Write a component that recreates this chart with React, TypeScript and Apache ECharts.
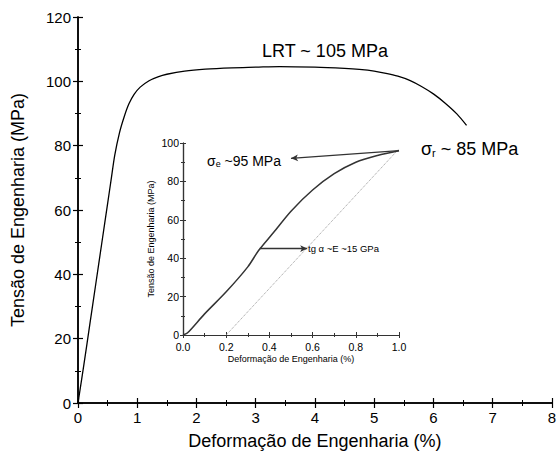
import React, { useEffect, useRef } from "react";
import * as echarts from "echarts";

// Main stress-strain curve: [strain %, stress MPa]
const mainStrain = [0, 0.1, 0.2, 0.3, 0.4, 0.5, 0.56, 0.62, 0.7, 0.78, 0.86, 0.95, 1.05, 1.2, 1.35, 1.5, 1.8, 2.15, 2.6, 3.0, 3.4, 4.0, 4.5, 4.75, 5.0, 5.2, 5.4, 5.6, 5.8, 6.0, 6.2, 6.4, 6.56];
const mainStress = [0, 12, 24.5, 37, 49.5, 62, 69.5, 77, 84, 89, 93, 96, 98.2, 100.2, 101.4, 102.2, 103.2, 103.8, 104.2, 104.4, 104.6, 104.4, 104, 103.7, 103.2, 102.5, 101.6, 100.3, 98.4, 96.1, 93.2, 89.8, 86.3];

// Inset curve
const insetStrain = [0, 0.02, 0.1, 0.2, 0.3, 0.35, 0.42, 0.5, 0.6, 0.7, 0.8, 0.9, 1.0];
const insetStress = [0, 1, 11, 22.5, 35.5, 44, 53.5, 64.5, 75.5, 84, 90, 93.5, 96];

// Offset (0.2%) modulus line
const offsetStrain = [0.2, 1.0];
const offsetStress = [0, 97];

// Annotation arrows (data coordinates of inset)
const yieldArrow = [[1.0, 96], [0.5, 92]];
const modulusArrow = [[0.355, 45], [0.575, 45]];

const mainXTicks = { min: 0, max: 8, interval: 1 };
const mainYTicks = { min: 0, max: 120, interval: 20 };
const insetXTicks = { min: 0, max: 1, interval: 0.2 };
const insetYTicks = { min: 0, max: 100, interval: 20 };

const FONT = "Arial, 'Liberation Sans', sans-serif";

export default function App() {
  const ref = useRef<HTMLDivElement>(null);
  useEffect(() => {
    if (!ref.current) return;
    const chart = echarts.init(ref.current, undefined, { renderer: "svg" });

    const mainAxisCommon = (show: boolean) => ({
      type: "value" as const,
      axisLine: { show: true, lineStyle: { color: "#000", width: 1.5 } },
      axisTick: { show: true, inside: true, length: 5, lineStyle: { color: "#000", width: 1.2 } },
      minorTick: { show: true, splitNumber: 2, length: 3, lineStyle: { color: "#000", width: 1 } },
      splitLine: { show: false },
      axisLabel: { show, color: "#000", fontSize: 15, fontFamily: FONT, margin: 7 },
    });
    const insetAxisCommon = (show: boolean) => ({
      type: "value" as const,
      axisLine: { show: true, lineStyle: { color: "#333", width: 1.2 } },
      axisTick: { show: true, inside: true, length: 3, lineStyle: { color: "#333", width: 1 } },
      minorTick: { show: true, splitNumber: 2, length: 2, lineStyle: { color: "#333", width: 1 } },
      splitLine: { show: false },
      axisLabel: { show, color: "#000", fontSize: 10.5, fontFamily: FONT, margin: 4 },
    });

    chart.setOption({
      animation: false,
      backgroundColor: "#fff",
      grid: [
        { left: 78, top: 17, width: 479, height: 388 },
        { left: 183, top: 143, width: 216, height: 192, backgroundColor: "#fff", show: true, borderWidth: 0 },
      ],
      xAxis: [
        {
          ...mainAxisCommon(true), gridIndex: 0, position: "bottom", ...mainXTicks,
          name: "Deformação de Engenharia (%)", nameLocation: "middle", nameGap: 29,
          nameTextStyle: { fontSize: 18, color: "#000", fontFamily: FONT },
        },
        { ...mainAxisCommon(false), gridIndex: 0, position: "top", ...mainXTicks },
        {
          ...insetAxisCommon(true), gridIndex: 1, position: "bottom", ...insetXTicks,
          axisLabel: { ...insetAxisCommon(true).axisLabel, margin: 6, formatter: (v: number) => v.toFixed(1) },
          name: "Deformação de Engenharia (%)", nameLocation: "middle", nameGap: 19,
          nameTextStyle: { fontSize: 9, color: "#000", fontFamily: FONT },
        },
        { ...insetAxisCommon(false), gridIndex: 1, position: "top", ...insetXTicks },
      ],
      yAxis: [
        {
          ...mainAxisCommon(true), gridIndex: 0, position: "left", ...mainYTicks,
          name: "Tensão de Engenharia (MPa)", nameLocation: "middle", nameGap: 51,
          nameTextStyle: { fontSize: 18, color: "#000", fontFamily: FONT },
        },
        { ...mainAxisCommon(false), gridIndex: 0, position: "right", ...mainYTicks },
        {
          ...insetAxisCommon(true), gridIndex: 1, position: "left", ...insetYTicks,
          name: "Tensão de Engenharia (MPa)", nameLocation: "middle", nameGap: 28,
          nameTextStyle: { fontSize: 9, color: "#000", fontFamily: FONT },
        },
        { ...insetAxisCommon(false), gridIndex: 1, position: "right", ...insetYTicks },
      ],
      series: [
        {
          type: "line", xAxisIndex: 0, yAxisIndex: 0, smooth: 0.3, showSymbol: false,
          lineStyle: { color: "#000", width: 1.3 },
          data: mainStrain.map((x, i) => [x, mainStress[i]]),
        },
        {
          type: "line", xAxisIndex: 2, yAxisIndex: 2, showSymbol: false,
          lineStyle: { color: "#999", width: 1, type: "dotted" },
          data: offsetStrain.map((x, i) => [x, offsetStress[i]]),
        },
        {
          type: "line", xAxisIndex: 2, yAxisIndex: 2, smooth: 0.3, showSymbol: false,
          lineStyle: { color: "#333", width: 1.5 },
          data: insetStrain.map((x, i) => [x, insetStress[i]]),
          markLine: {
            silent: true, symbol: ["none", "arrow"], symbolSize: [5, 7], precision: 2,
            label: { show: false },
            lineStyle: { color: "#333", width: 1.3, type: "solid" },
            data: [
              [{ coord: yieldArrow[0] }, { coord: yieldArrow[1] }],
              [{ coord: modulusArrow[0] }, { coord: modulusArrow[1] }],
            ],
          },
        },
      ],
      graphic: [
        {
          type: "text", left: 262, top: 42,
          style: { text: "LRT ~ 105 MPa", fontSize: 18, fontFamily: FONT, fill: "#000" },
        },
        {
          type: "text", left: 421, top: 140,
          style: {
            text: "{s|σ}{sub|r}{s| ~ 85 MPa}", fontFamily: FONT, fill: "#000",
            rich: {
              s: { fontSize: 18, fontFamily: FONT, fill: "#000", verticalAlign: "bottom", lineHeight: 22 },
              sub: { fontSize: 11, fontFamily: FONT, fill: "#000", verticalAlign: "bottom", lineHeight: 8 },
            },
          },
        },
        {
          type: "text", left: 207, top: 154,
          style: {
            text: "{s|σ}{sub|e}{s| ~95 MPa}", fontFamily: FONT, fill: "#000",
            rich: {
              s: { fontSize: 14, fontFamily: FONT, fill: "#000", verticalAlign: "bottom", lineHeight: 17 },
              sub: { fontSize: 9, fontFamily: FONT, fill: "#000", verticalAlign: "bottom", lineHeight: 6 },
            },
          },
        },
        {
          type: "text", left: 308, top: 243,
          style: { text: "tg α ~E ~15 GPa", fontSize: 9.5, fontFamily: FONT, fill: "#000" },
        },
      ],
    });
    return () => chart.dispose();
  }, []);
  return <div ref={ref} style={{ position: "fixed", left: 0, top: 0, width: 559, height: 455 }} />;
}
